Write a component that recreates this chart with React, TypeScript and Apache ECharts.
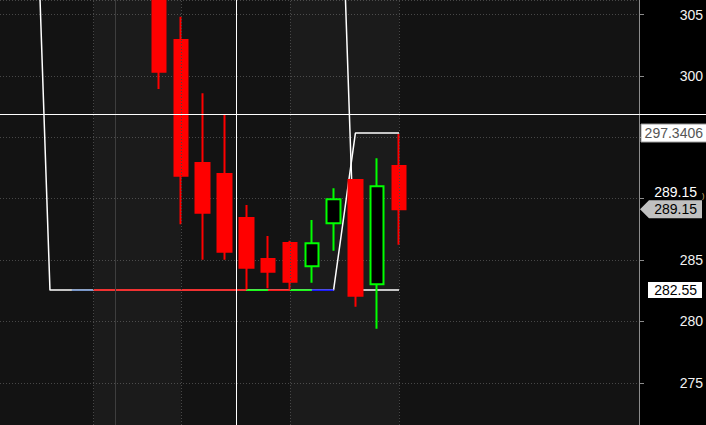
import { useEffect, useRef } from 'react';
import * as echarts from 'echarts';

// ── Candles (x = bar index, 0 = first visible bar) ──
const barIdx = [0, 1, 2, 3, 4, 5, 6, 7, 8, 9, 10, 11];
const opens = [307.5, 302.93, 292.91, 292.01, 288.43, 285.09, 286.39, 284.49, 287.99, 291.52, 283.02, 292.67];
const closes = [300.35, 291.87, 288.86, 285.68, 284.38, 284.05, 283.24, 286.36, 289.95, 282.09, 291.01, 289.15];
const lows = [298.94, 287.91, 285.03, 285.03, 282.6, 282.7, 282.6, 283.15, 285.76, 281.2, 279.41, 286.25];
const highs = [308.6, 304.83, 298.59, 296.82, 289.49, 286.96, 286.58, 288.26, 290.85, 291.55, 293.29, 295.27];

// ── Trailing stop lines ──
const stopAX = [-6, -5, 8, 9, 11];
const stopAY = [334.6, 282.55, 282.55, 295.35, 295.35];
const stopBX = [8, 9, 11];
const stopBY = [334.6, 282.55, 282.55];
const stopLevel = 282.55;
const upperStopText = '297.3406';

// coloured trend segments on the stop level
const trendX = [-4, -3, 4, 5, 6, 7, 8];
const trendColors = ['#6d8fc9', '#ff0000', '#00ff00', '#ff0000', '#00ff00', '#0000ff'];

// ── Sessions / cursor ──
const sessionLines = [-3, 1, 6, 11];
const shadedSessions = [[-3, 1], [6, 11]];
const dayLine = -2;
const crossX = 3.53;
const crossY = 296.9;

// visible price window; ticks hidden under the price tags
const yMin = 271.56;
const yMax = 306.19;
const coveredTicks = [290, 295];

const BG = '#131313';
const GRID = '#474747';
const FONT = '"Liberation Sans", Arial, sans-serif';

export default function App() {
  const ref = useRef<HTMLDivElement>(null);

  useEffect(() => {
    if (!ref.current) return;
    const chart = echarts.init(ref.current, undefined, { renderer: 'svg' });

    const candleData = barIdx.map((x, i) => [x, opens[i], closes[i], lows[i], highs[i]]);

    const trendSeries = trendColors.map((c, k) => ({
      type: 'line',
      silent: true,
      symbol: 'none',
      z: 3,
      data: [[trendX[k], stopLevel], [trendX[k + 1], stopLevel]],
      lineStyle: { color: c, width: 1.5 },
    }));

    chart.setOption({
      animation: false,
      backgroundColor: '#000',
      grid: { left: 0, right: 67, top: 0, bottom: 0, show: true, backgroundColor: BG, borderWidth: 0 },
      xAxis: { type: 'value', min: -7.29, max: 22, show: false, splitLine: { show: false } },
      yAxis: {
        type: 'value',
        position: 'right',
        min: yMin,
        max: yMax,
        splitNumber: 7,
        axisLine: { show: true, onZero: false, lineStyle: { color: '#8c8c8c', width: 1 } },
        axisTick: { show: true, length: 5, lineStyle: { color: '#8c8c8c' } },
        axisLabel: {
          color: '#f2f2f2', fontSize: 14, fontFamily: FONT, align: 'right', margin: 64,
          showMinLabel: false, showMaxLabel: false,
          formatter: (v: number) => (coveredTicks.includes(v) ? '' : String(v)),
        },
        splitLine: { show: true, lineStyle: { color: GRID, type: [1, 2], width: 1 } },
      },
      series: [
        {
          type: 'line',
          name: 'stopA',
          silent: true,
          symbol: 'none',
          z: 2,
          data: stopAX.map((x, i) => [x, stopAY[i]]),
          lineStyle: { color: '#ffffff', width: 1.5 },
          markArea: {
            silent: true,
            itemStyle: { color: 'rgba(255,255,255,0.035)' },
            data: shadedSessions.map(([a, b]) => [{ xAxis: a }, { xAxis: b }]),
          },
          markLine: {
            silent: true,
            symbol: 'none',
            label: { show: false },
            data: [
              ...sessionLines.map(x => ({ xAxis: x, lineStyle: { color: GRID, type: [1, 2], width: 1 } })),
              { xAxis: dayLine, lineStyle: { color: '#3e3e3e', type: 'solid', width: 1 } },
              { xAxis: crossX, lineStyle: { color: '#ffffff', type: 'solid', width: 1 } },
            ],
          },
        },
        {
          type: 'line',
          name: 'stopB',
          silent: true,
          symbol: 'none',
          z: 2,
          data: stopBX.map((x, i) => [x, stopBY[i]]),
          lineStyle: { color: '#ffffff', width: 1.5 },
        },
        ...trendSeries,
        {
          type: 'candlestick',
          name: 'price',
          silent: true,
          z: 4,
          barWidth: 14,
          dimensions: ['x', 'open', 'close', 'lowest', 'highest'],
          encode: { x: 0, y: [1, 2, 3, 4] },
          data: candleData,
          itemStyle: {
            color: '#000000',
            borderColor: '#00ff00',
            color0: '#ff0000',
            borderColor0: '#ff0000',
            borderWidth: 2,
          },
        },
      ],
    });

    const yOf = (v: number) => chart.convertToPixel({ gridIndex: 0 }, [0, v])[1];
    const last = closes[closes.length - 1];
    const yCross = Math.round(yOf(crossY)) + 0.5;
    const yUpper = yOf(stopAY[stopAY.length - 1]);
    const yLast = yOf(last);
    const yStop = yOf(stopLevel);
    const tagText = { font: `14px ${FONT}`, lineHeight: 14, align: 'right', verticalAlign: 'middle' };

    chart.setOption({
      graphic: [
        { type: 'line', silent: true, z: 10, shape: { x1: 0, y1: yCross, x2: 706, y2: yCross }, style: { stroke: '#ffffff', lineWidth: 1 } },
        { type: 'rect', silent: true, z: 10, shape: { x: 641, y: yUpper - 9, width: 66, height: 18 }, style: { fill: '#ffffff', stroke: '#9a9a9a', lineWidth: 1 } },
        { type: 'text', silent: true, z: 11, x: 703, y: yUpper, style: { ...tagText, text: upperStopText, fill: '#555555' } },
        { type: 'text', silent: true, z: 11, x: 697, y: yLast - 17, style: { ...tagText, text: last.toFixed(2), fill: '#ffffff' } },
        { type: 'text', silent: true, z: 11, x: 702, y: yLast - 14, style: { text: ')', fill: '#e8c080', font: `7px ${FONT}`, align: 'left', verticalAlign: 'middle' } },
        {
          type: 'polygon', silent: true, z: 10,
          shape: { points: [[640, yLast], [649, yLast - 9], [702, yLast - 9], [702, yLast + 9], [649, yLast + 9]] },
          style: { fill: '#c0c0c0' },
        },
        { type: 'text', silent: true, z: 11, x: 697, y: yLast, style: { ...tagText, text: last.toFixed(2), fill: '#000000' } },
        { type: 'rect', silent: true, z: 10, shape: { x: 648, y: yStop - 8, width: 54, height: 16 }, style: { fill: '#ffffff' } },
        { type: 'text', silent: true, z: 11, x: 697, y: yStop, style: { ...tagText, text: stopLevel.toFixed(2), fill: '#000000' } },
      ],
    });

    return () => chart.dispose();
  }, []);

  return <div ref={ref} style={{ position: 'fixed', left: 0, top: 0, width: 706, height: 425, background: '#000' }} />;
}
